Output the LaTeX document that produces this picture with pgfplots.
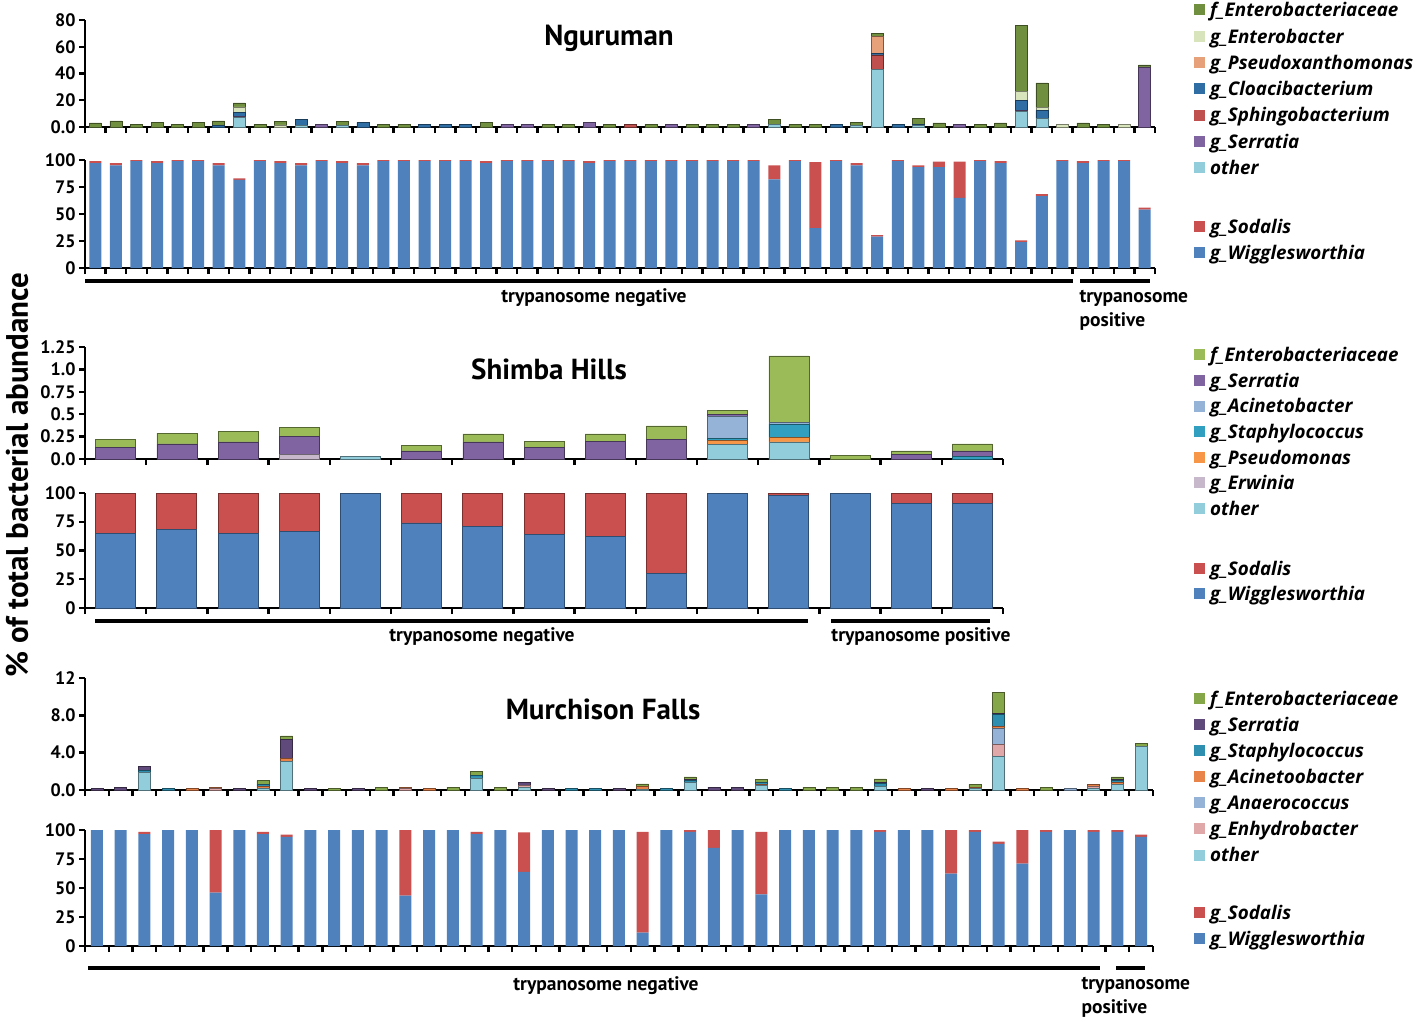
\documentclass[border=0pt]{standalone}
\usepackage{pgfplots}
\pgfplotsset{compat=1.18}
\usepackage{pgfplotstable}
\usepackage{fontspec}
\setmainfont{PT Sans}
\newfontfamily\legfont{Open Sans}

% colours
\definecolor{nFen}{HTML}{708F3F}
\definecolor{nEnt}{HTML}{D8E4BC}
\definecolor{nPse}{HTML}{E6A07A}
\definecolor{nClo}{HTML}{2F6EA5}
\definecolor{nSph}{HTML}{C0504D}
\definecolor{nSer}{HTML}{8064A2}
\definecolor{cOth}{HTML}{92CDDC}
\definecolor{sFen}{HTML}{9BBB59}
\definecolor{sSer}{HTML}{8064A2}
\definecolor{sAci}{HTML}{95B3D7}
\definecolor{sSta}{HTML}{31A0C0}
\definecolor{sPse}{HTML}{F79646}
\definecolor{sErw}{HTML}{C7B8CC}
\definecolor{mFen}{HTML}{86A64A}
\definecolor{mSer}{HTML}{604A7B}
\definecolor{mSta}{HTML}{2E8FB0}
\definecolor{mAci}{HTML}{E8834A}
\definecolor{mAna}{HTML}{95B3D7}
\definecolor{mEnh}{HTML}{E0A8A8}
\definecolor{cWig}{HTML}{4F81BD}
\definecolor{cSod}{HTML}{C9504F}

% Nguruman, minor taxa
\pgfplotstableread{
x oth ser sph clo pse ent fen
1 0 0 0 0 0 0 3
2 0 0 0 0 0 0 4.5
3 0 0 0 0 0 0 2
4 0 0 0 0 0 0 3.5
5 0 0 0 0 0 0 2
6 0 0 0 0 0 0 3.5
7 0 0 0 1 0 0 3.5
8 7 1 0 3 0 4 3
9 0 0 0 0 0 0 2
10 0 0 0 0 0 1.5 2.5
11 1 0 0 4.5 0 0 0
12 0 2 0 0 0 0 0
13 1 0 0 0 0 0 3
14 0 0 0 3.5 0 0 0
15 0 0 0 0 0 0 2
16 0 0 0 0 0 0 2
17 0 0 0 2 0 0 0
18 0 0 0 2 0 0 0
19 0 0 0 2 0 0 0
20 0 0 0 0 0 0 3.5
21 0 2 0 0 0 0 0
22 0 2 0 0 0 0 0
23 0 0 0 0 0 0 2
24 0 0 0 0 0 0 2
25 0 3.5 0 0 0 0 0
26 0 0 0 0 0 0 2
27 0 0 2 0 0 0 0
28 0 0 0 0 0 0 2
29 0 2 0 0 0 0 0
30 0 0 0 0 0 0 2
31 0 0 0 0 0 0 2
32 0 0 0 0 0 0 2
33 0 2 0 0 0 0 0
34 2 0 0 0 0 0 3.5
35 0 0 0 0 0 0 2
36 0 0 0 0 0 0 2
37 0 0 0 2 0 0 0
38 1 0 0 0 0 0 2.5
39 43 0 11 1 12.5 0 2.5
40 0 0 0 2 0 0 0
41 1 0 0 1 0 0 4.5
42 0 0 0 0 0 0 3
43 0 2 0 0 0 0 0
44 0 0 0 0 0 0 2
45 0 0 0 0 0 0 3
46 11.5 1 0 7.5 0 6.5 49.5
47 6.5 0 0 6 0 2 18.5
48 0 0 0 0 0 2 0
49 0 0 0 0 0 0 3
50 0 0 0 0 0 0 2
51 0 0 0 0 0 2 0
52 0 45 0 0 0 0 1.5
}\ngtop

% Nguruman, symbionts
\pgfplotstableread{
x wig sod
1 97 2
2 95 2
3 99 1
4 97 2
5 99 1
6 99 1
7 95 2
8 81.5 1.5
9 99 1
10 97 2
11 95 2
12 99 1
13 97 2
14 95 2
15 99 1
16 99 1
17 99 1
18 99 1
19 99 1
20 97 2
21 99 1
22 99 1
23 99 1
24 99 1
25 97 2
26 99 1
27 99 1
28 99 1
29 99 1
30 99 1
31 99 1
32 99 1
33 99 1
34 82 13
35 99 1
36 37 61
37 99 1
38 95 2
39 29 1.5
40 99 1
41 93.5 1.5
42 93.5 5
43 65 33.5
44 99 1
45 97 2
46 24 1.5
47 66.5 2
48 99 1
49 97 2
50 99 1
51 99 1
52 54 2
}\ngbot

% Shimba Hills, minor taxa
\pgfplotstableread{
x oth erw pse sta aci ser fen
1 0 0 0 0 0 0.13 0.09
2 0 0 0 0 0 0.17 0.12
3 0 0 0 0 0 0.19 0.12
4 0 0.05 0 0 0 0.20 0.10
5 0.03 0 0 0 0 0 0
6 0 0 0 0 0 0.09 0.06
7 0 0 0 0 0 0.19 0.09
8 0 0 0 0 0 0.13 0.07
9 0 0 0 0 0 0.20 0.08
10 0 0 0 0 0 0.22 0.15
11 0.16 0 0.05 0.02 0.25 0.02 0.04
12 0.19 0 0.05 0.15 0.02 0 0.74
13 0 0 0 0 0 0 0.04
14 0 0 0 0 0 0.05 0.04
15 0 0 0 0.03 0 0.06 0.08
}\shtop

\pgfplotstableread{
x wig sod
1 65 35
2 68 32
3 65 35
4 66.5 33.5
5 99.5 0.5
6 74 26
7 71 29
8 64 36
9 62 38
10 30 70
11 99.5 0.5
12 98 2
13 99.5 0.5
14 91 9
15 91 9
}\shbot

% Murchison Falls, minor taxa
\pgfplotstableread{
x oth enh ana aci sta ser fen
1 0 0 0 0 0 0.15 0
2 0 0 0 0 0 0.3 0
3 1.9 0 0 0 0.2 0.4 0
4 0 0 0 0 0.15 0 0
5 0 0 0 0.15 0 0 0
6 0 0.15 0 0.15 0 0 0
7 0 0 0 0 0 0.15 0
8 0.2 0 0 0.2 0.2 0 0.4
9 3.1 0 0 0.3 0 2.0 0.4
10 0 0 0 0 0 0.15 0
11 0 0 0 0 0 0 0.15
12 0 0 0 0 0 0.15 0
13 0 0 0 0 0 0 0.3
14 0 0.15 0 0.15 0 0 0
15 0 0 0 0.15 0 0 0
16 0 0 0 0 0 0 0.3
17 1.3 0 0 0 0.3 0 0.4
18 0 0 0 0 0 0 0.3
19 0.3 0.2 0 0 0 0.3 0
20 0 0 0 0 0 0.15 0
21 0 0 0 0 0.15 0 0
22 0 0 0 0 0.15 0 0
23 0 0 0 0 0 0.15 0
24 0.1 0 0 0.25 0 0 0.3
25 0 0 0 0 0.15 0 0
26 0.8 0 0 0 0.2 0.1 0.3
27 0 0 0 0 0 0.3 0
28 0 0 0 0 0 0.3 0
29 0.5 0 0 0.1 0.2 0 0.3
30 0 0 0 0 0.15 0 0
31 0 0 0 0 0 0 0.3
32 0 0 0 0 0 0 0.3
33 0 0 0 0 0 0 0.3
34 0.4 0 0 0 0.3 0.1 0.4
35 0 0 0 0.15 0 0 0
36 0 0 0 0 0 0.15 0
37 0 0 0 0.15 0 0 0
38 0.2 0 0 0.1 0 0 0.3
39 3.6 1.3 1.7 0.2 1.3 0.1 2.3
40 0 0 0 0.15 0 0 0
41 0 0 0 0 0 0 0.3
42 0 0 0.15 0 0 0 0
43 0.2 0.15 0 0.25 0 0 0
44 0.6 0 0 0.2 0.2 0.1 0.3
45 4.7 0 0 0 0 0 0.3
}\mftop

\pgfplotstableread{
x wig sod
1 100 0
2 100 0
3 96.5 2
4 100 0
5 100 0
6 46 54
7 100 0
8 96.5 2
9 94 2
10 100 0
11 100 0
12 100 0
13 100 0
14 43.5 56.5
15 100 0
16 100 0
17 96.5 2
18 100 0
19 64 34
20 100 0
21 100 0
22 100 0
23 100 0
24 11.5 87
25 100 0
26 98.5 1.5
27 84.5 15.5
28 100 0
29 44.5 54
30 100 0
31 100 0
32 100 0
33 100 0
34 98.5 1.5
35 100 0
36 100 0
37 62.5 37.5
38 98.5 1.5
39 88 2
40 71 29
41 98.5 1.5
42 100 0
43 98.5 1.5
44 98.5 1.5
45 94 2
}\mfbot

\pgfplotsset{
  panel/.style={
    scale only axis,
    anchor=south west,
    axis lines=left,
    axis line style={line width=2.4pt,-},
    tick style={line width=2.4pt,black},
    major tick length=6pt,
    tick align=outside,
    xticklabels={},
    ymin=0,
    ybar stacked,
    ticklabel style={font=\fontsize{18}{20}\selectfont\bfseries},
    /pgf/number format/assume math mode=true,
    reverse legend,
    legend style={draw=none,fill=none,anchor=north west,
      font=\legfont\fontsize{18.8}{20}\selectfont\bfseries\itshape,
      cells={anchor=west},row sep=6.5pt,inner sep=0pt},
    legend image code/.code={\path[draw=none,fill=none] (0pt,-5pt) rectangle (18pt,6pt);
      \fill[##1,draw=none] (4pt,-5pt) rectangle (14.5pt,6pt);},
  },
  bot/.style={ymax=100,ytick={0,25,50,75,100}},
  tb/.style={fill=#1,draw=#1!55!black,line width=0.5pt},
}

\newcommand{\lab}{\fontsize{19.5}{24}\selectfont\bfseries}

\begin{document}
\begin{tikzpicture}
\path[use as bounding box] (0pt,0pt) rectangle (1418pt,-1022pt);

% ---------- Nguruman ----------
\begin{axis}[panel, at={(85pt,-127pt)}, width=1070pt, height=107pt,
  xmin=0.5, xmax=52.5, ymax=80, xtick={0.5,1.5,...,52.5},
  ytick={0,20,40,60,80}, yticklabels={0.0,20,40,60,80},
  bar width=12pt, legend style={at={(1.0327,1.185)}}]
\addplot[tb=cOth] table[x=x,y=oth]{\ngtop}; \addlegendentry{other}
\addplot[tb=nSer] table[x=x,y=ser]{\ngtop}; \addlegendentry{g\_Serratia}
\addplot[tb=nSph] table[x=x,y=sph]{\ngtop}; \addlegendentry{g\_Sphingobacterium}
\addplot[tb=nClo] table[x=x,y=clo]{\ngtop}; \addlegendentry{g\_Cloacibacterium}
\addplot[tb=nPse] table[x=x,y=pse]{\ngtop}; \addlegendentry{g\_Pseudoxanthomonas}
\addplot[tb=nEnt] table[x=x,y=ent]{\ngtop}; \addlegendentry{g\_Enterobacter}
\addplot[tb=nFen] table[x=x,y=fen]{\ngtop}; \addlegendentry{f\_Enterobacteriaceae}
\end{axis}

\begin{axis}[panel, bot, at={(85pt,-268pt)}, width=1070pt, height=108pt,
  xmin=0.5, xmax=52.5, xtick={0.5,1.5,...,52.5},
  bar width=12pt, legend style={at={(1.0327,0.476)}}]
\addplot[fill=cWig,draw=none] table[x=x,y=wig]{\ngbot}; \addlegendentry{g\_Wigglesworthia}
\addplot[fill=cSod,draw=none] table[x=x,y=sod]{\ngbot}; \addlegendentry{g\_Sodalis}
\end{axis}

% ---------- Shimba Hills ----------
\begin{axis}[panel, at={(85pt,-459pt)}, width=918pt, height=112pt,
  xmin=0.5, xmax=15.5, ymax=1.25, xtick={0.5,1.5,...,15.5},
  ytick={0,0.25,0.5,0.75,1,1.25}, yticklabels={0.0,0.25,0.5,0.75,1.0,1.25},
  bar width=40pt, legend style={at={(1.2037,1.016)},row sep=5.8pt}]
\addplot[tb=cOth] table[x=x,y=oth]{\shtop}; \addlegendentry{other}
\addplot[tb=sErw] table[x=x,y=erw]{\shtop}; \addlegendentry{g\_Erwinia}
\addplot[tb=sPse] table[x=x,y=pse]{\shtop}; \addlegendentry{g\_Pseudomonas}
\addplot[tb=sSta] table[x=x,y=sta]{\shtop}; \addlegendentry{g\_Staphylococcus}
\addplot[tb=sAci] table[x=x,y=aci]{\shtop}; \addlegendentry{g\_Acinetobacter}
\addplot[tb=sSer] table[x=x,y=ser]{\shtop}; \addlegendentry{g\_Serratia}
\addplot[tb=sFen] table[x=x,y=fen]{\shtop}; \addlegendentry{f\_Enterobacteriaceae}
\end{axis}

\begin{axis}[panel, bot, at={(85pt,-608pt)}, width=918pt, height=115pt,
  xmin=0.5, xmax=15.5, xtick={0.5,1.5,...,15.5},
  bar width=40pt, legend style={at={(1.2037,0.429)},row sep=5.8pt}]
\addplot[fill=cWig,draw=cWig!60!black,line width=0.8pt] table[x=x,y=wig]{\shbot}; \addlegendentry{g\_Wigglesworthia}
\addplot[fill=cSod,draw=cSod!60!black,line width=0.8pt] table[x=x,y=sod]{\shbot}; \addlegendentry{g\_Sodalis}
\end{axis}

% ---------- Murchison Falls ----------
\begin{axis}[panel, at={(85pt,-790pt)}, width=1068pt, height=112pt,
  xmin=0.5, xmax=45.5, ymax=12, xtick={0.5,1.5,...,45.5},
  ytick={0,4,8,12}, yticklabels={0.0,4.0,8.0,12},
  bar width=12pt, legend style={at={(1.0346,0.907)}}]
\addplot[tb=cOth] table[x=x,y=oth]{\mftop}; \addlegendentry{other}
\addplot[tb=mEnh] table[x=x,y=enh]{\mftop}; \addlegendentry{g\_Enhydrobacter}
\addplot[tb=mAna] table[x=x,y=ana]{\mftop}; \addlegendentry{g\_Anaerococcus}
\addplot[tb=mAci] table[x=x,y=aci]{\mftop}; \addlegendentry{g\_Acinetoobacter}
\addplot[tb=mSta] table[x=x,y=sta]{\mftop}; \addlegendentry{g\_Staphylococcus}
\addplot[tb=mSer] table[x=x,y=ser]{\mftop}; \addlegendentry{g\_Serratia}
\addplot[tb=mFen] table[x=x,y=fen]{\mftop}; \addlegendentry{f\_Enterobacteriaceae}
\end{axis}

\begin{axis}[panel, bot, at={(85pt,-946pt)}, width=1068pt, height=116pt,
  xmin=0.5, xmax=45.5, xtick={0.5,1.5,...,45.5},
  bar width=12pt, legend style={at={(1.0346,0.374)}}]
\addplot[fill=cWig,draw=none] table[x=x,y=wig]{\mfbot}; \addlegendentry{g\_Wigglesworthia}
\addplot[fill=cSod,draw=none] table[x=x,y=sod]{\mfbot}; \addlegendentry{g\_Sodalis}
\end{axis}

% titles
\node[font=\fontsize{29}{30}\selectfont\bfseries] at (609pt,-38pt) {Nguruman};
\node[font=\fontsize{29}{30}\selectfont\bfseries] at (549pt,-369pt) {Shimba Hills};
\node[font=\fontsize{29}{30}\selectfont\bfseries] at (603pt,-709pt) {Murchison Falls};

% y label
\node[rotate=90,font=\fontsize{31}{34}\selectfont\bfseries] at (17pt,-475pt) {\% of total bacterial abundance};

% group brackets
\draw[line width=3.5pt] (85pt,-281pt) -- (1073pt,-281pt);
\draw[line width=3.5pt] (1080pt,-281pt) -- (1150pt,-281pt);
\node[font=\lab] at (594pt,-298pt) {trypanosome negative};
\node[font=\lab,anchor=west,align=left] at (1076pt,-310pt) {trypanosome\\positive};

\draw[line width=3.5pt] (95pt,-621pt) -- (808pt,-621pt);
\draw[line width=3.5pt] (831pt,-621pt) -- (990pt,-621pt);
\node[font=\lab] at (482pt,-637pt) {trypanosome negative};
\node[font=\lab] at (921pt,-637pt) {trypanosome positive};

\draw[line width=3.5pt] (88pt,-968pt) -- (1100pt,-968pt);
\draw[line width=3.5pt] (1116pt,-968pt) -- (1145pt,-968pt);
\node[font=\lab] at (606pt,-986pt) {trypanosome negative};
\node[font=\lab,anchor=west,align=left] at (1078pt,-997pt) {trypanosome\\positive};
\end{tikzpicture}
\end{document}
